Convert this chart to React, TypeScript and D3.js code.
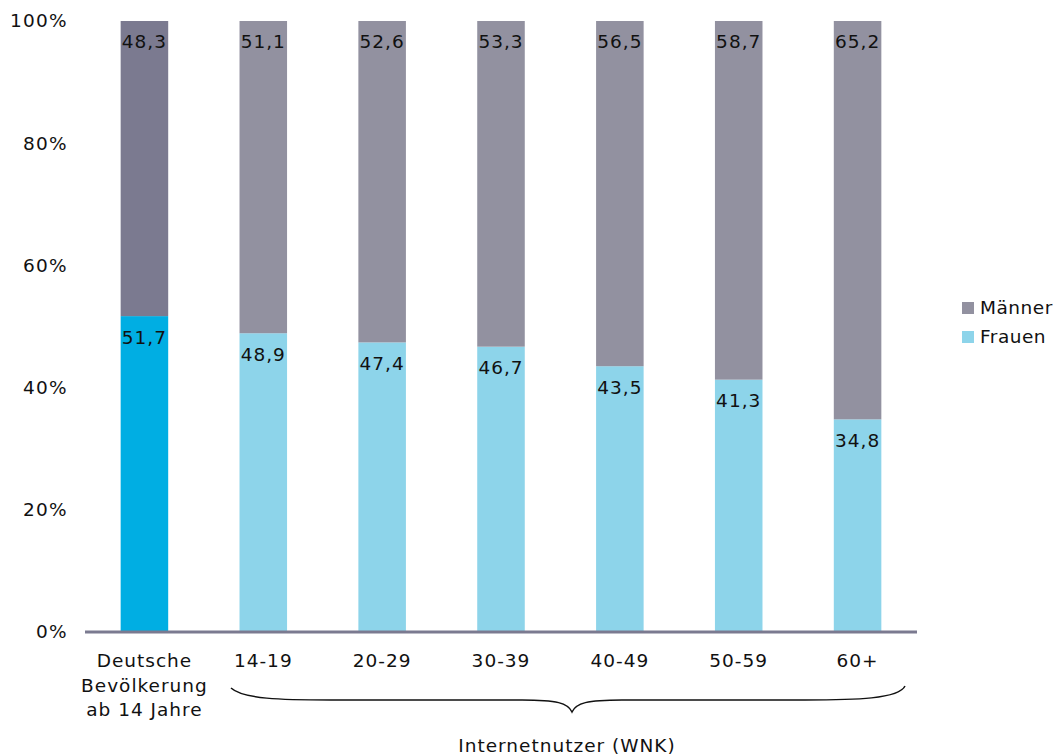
import React from "react";
import * as d3 from "d3";

const categories = ["Deutsche Bevölkerung ab 14 Jahre", "14-19", "20-29", "30-39", "40-49", "50-59", "60+"];
const frauen = [51.7, 48.9, 47.4, 46.7, 43.5, 41.3, 34.8];
const maenner = [48.3, 51.1, 52.6, 53.3, 56.5, 58.7, 65.2];
const yTicks = [0, 20, 40, 60, 80, 100];
const categoryLines: string[][] = [["Deutsche", "Bevölkerung", "ab 14 Jahre"], ["14-19"], ["20-29"], ["30-39"], ["40-49"], ["50-59"], ["60+"]];

const W = 1059, H = 756;
const FONT = "'DejaVu Sans', Verdana, sans-serif";
const FS = 18.5;
const LS = 1;

export default function App() {
  const x = d3.scaleBand<string>().domain(categories).range([85, 917]).paddingInner(0.6).paddingOuter(0.3);
  const y = d3.scaleLinear().domain([0, 100]).range([632, 21]);
  const fmt = (v: number) => v.toFixed(1).replace(".", ",");
  const colF = (i: number) => (i === 0 ? "#00aee3" : "#8dd4ea");
  const colM = (i: number) => (i === 0 ? "#7b7a90" : "#9291a0");

  const bx0 = 231;
  const bx1 = 905;
  const bmid = 572;
  const yEnd = 688, yFlat = 700, yTip = 712;
  const brace = `M${bx0},${yEnd} C${bx0 + 12},${yFlat - 1} ${bx0 + 50},${yFlat} ${bx0 + 100},${yFlat} L${bmid - 50},${yFlat} C${bmid - 15},${yFlat} ${bmid - 4},${yFlat + 3} ${bmid},${yTip} C${bmid + 4},${yFlat + 3} ${bmid + 15},${yFlat} ${bmid + 50},${yFlat} L${bx1 - 100},${yFlat} C${bx1 - 50},${yFlat} ${bx1 - 6},${yFlat - 1} ${bx1},${yEnd - 2}`;

  return (
    <svg width={W} height={H} style={{ position: "absolute", left: 0, top: 0, background: "#fff" }} fontFamily={FONT}>
      {yTicks.map((t) => (
        <text key={t} x={68} y={y(t)} dy="0.35em" textAnchor="end" fontSize={FS} letterSpacing={1.3} fill="#111">
          {t}%
        </text>
      ))}
      {categories.map((c, i) => {
        const bx = x(c) ?? 0;
        const bw = x.bandwidth();
        const yF = y(frauen[i]);
        const yM = y(frauen[i] + maenner[i]);
        return (
          <g key={c}>
            <rect x={bx} y={yF} width={bw} height={y(0) - yF} fill={colF(i)} />
            <rect x={bx} y={yM} width={bw} height={yF - yM} fill={colM(i)} />
            <text x={bx + bw / 2} y={yF + 21} dy="0.35em" textAnchor="middle" fontSize={FS} letterSpacing={LS} fill="#111">
              {fmt(frauen[i])}
            </text>
            <text x={bx + bw / 2} y={yM + 21} dy="0.35em" textAnchor="middle" fontSize={FS} letterSpacing={LS} fill="#111">
              {fmt(maenner[i])}
            </text>
            {categoryLines[i].map((l, j) => (
              <text key={j} x={bx + bw / 2} y={661 + j * 24.5} dy="0.35em" textAnchor="middle" fontSize={FS} letterSpacing={LS} fill="#111">
                {l}
              </text>
            ))}
          </g>
        );
      })}
      <line x1={85} x2={917} y1={y(0)} y2={y(0)} stroke="#7b7a90" strokeWidth={3} />
      <path d={brace} fill="none" stroke="#111" strokeWidth={1.5} />
      <text x={567} y={746} dy="0.35em" textAnchor="middle" fontSize={FS} letterSpacing={LS} fill="#111">
        Internetnutzer (WNK)
      </text>
      <g>
        <rect x={962} y={302} width={12} height={12} fill="#9291a0" />
        <text x={980} y={308} dy="0.35em" fontSize={FS} letterSpacing={0.5} fill="#111">Männer</text>
        <rect x={962} y={331} width={12} height={12} fill="#8dd4ea" />
        <text x={980} y={337} dy="0.35em" fontSize={FS} letterSpacing={0.5} fill="#111">Frauen</text>
      </g>
    </svg>
  );
}
